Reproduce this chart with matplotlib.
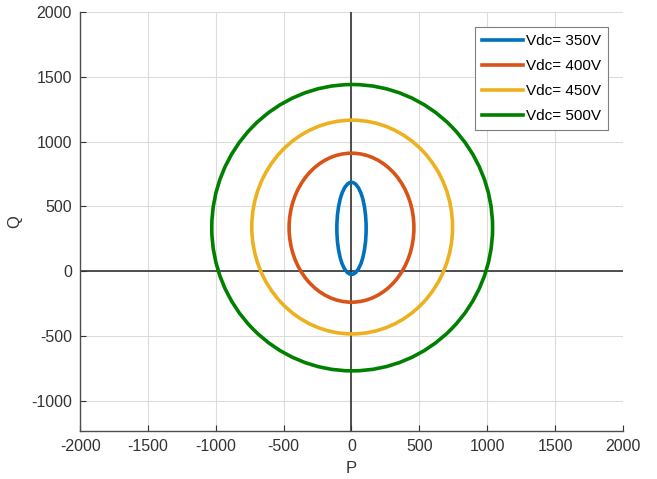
import matplotlib
matplotlib.use('Agg')
import matplotlib.pyplot as plt
from matplotlib.patches import Ellipse
from matplotlib.lines import Line2D

plt.rcParams['font.family'] = ['Liberation Sans', 'DejaVu Sans']
plt.rcParams['axes.unicode_minus'] = False

labels = ['Vdc= 350V', 'Vdc= 400V', 'Vdc= 450V', 'Vdc= 500V']
colors = ['#0072BD', '#D95319', '#EDB120', '#008000']

# ellipse centre (P, Q) and half widths
center_p = [0, 0, 5, 5]
center_q = [330, 335, 340, 335]
half_p = [108, 460, 740, 1035]
half_q = [355, 575, 825, 1105]

xticks = [-2000, -1500, -1000, -500, 0, 500, 1000, 1500, 2000]
yticks = [-1000, -500, 0, 500, 1000, 1500, 2000]

fig = plt.figure(figsize=(6.57, 4.79), dpi=100)
ax = fig.add_axes([0.122, 0.100, 0.826, 0.875])

for cp, cq, hp, hq, c, lab in zip(center_p, center_q, half_p, half_q, colors, labels):
    ax.add_patch(Ellipse((cp, cq), 2 * hp, 2 * hq, fill=False,
                         edgecolor=c, linewidth=2.6, zorder=3, label=lab))

ax.axhline(0, color='#333333', linewidth=1.2, zorder=2)
ax.axvline(0, color='#333333', linewidth=1.2, zorder=2)

ax.set_xlim(-2000, 2000)
ax.set_ylim(-1235, 2000)
ax.set_xticks(xticks)
ax.set_yticks(yticks)
ax.grid(True, color='#dcdcdc', linewidth=0.8)
ax.set_axisbelow(True)

for s in ['top', 'right']:
    ax.spines[s].set_visible(False)
for s in ['left', 'bottom']:
    ax.spines[s].set_color('#4d4d4d')
    ax.spines[s].set_linewidth(1.0)

ax.tick_params(direction='in', length=4, labelsize=11.5, colors='#333333', pad=6)
ax.set_xlabel('P', fontsize=12, color='#333333', labelpad=5)
ax.set_ylabel('Q', fontsize=12, color='#333333', labelpad=6)

handles = [Line2D([0], [0], color=c, linewidth=2.6) for c in colors]
leg = ax.legend(handles, labels, loc='upper right', fontsize=11,
                fancybox=False, framealpha=1, edgecolor='#7f7f7f',
                handlelength=2.7, handletextpad=0.15, borderaxespad=1.0,
                labelspacing=0.72, borderpad=0.45)
leg.get_frame().set_linewidth(0.8)

fig.savefig('out.png', dpi=100)
